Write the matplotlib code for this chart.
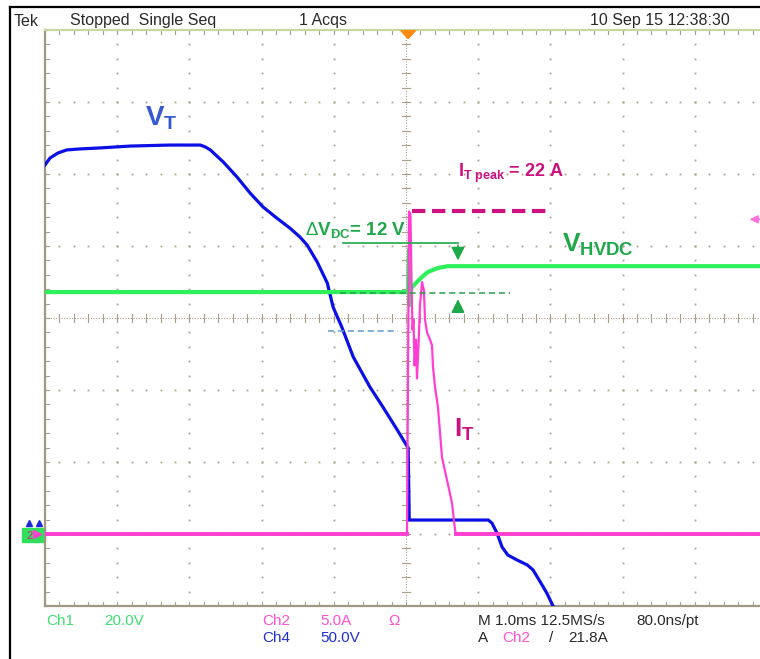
#!/usr/bin/env python3
"""Redraw of a Tek scope capture: V_T, I_T and V_HVDC around a switching event."""

import matplotlib

matplotlib.use("Agg")
import matplotlib.pyplot as plt  # noqa: E402
import numpy as np  # noqa: E402
from matplotlib.lines import Line2D  # noqa: E402
from matplotlib.patches import Rectangle  # noqa: E402

# scope settings
CH1_V_PER_DIV = 20.0   # green, V_HVDC
CH2_A_PER_DIV = 5.0    # magenta, I_T
CH4_V_PER_DIV = 50.0   # blue, V_T
GROUND_DIV = -3.0      # all channel ground markers sit one div above the bottom

# V_T (Ch4), time in ms relative to trigger, volts
VT_T = [-5.0, -4.93, -4.82, -4.70, -4.52, -4.24, -3.82, -3.27, -2.85, -2.78, -2.71,
        -2.53, -2.34, -2.16, -1.98, -1.79, -1.61, -1.47, -1.37, -1.23, -1.09, -1.01,
        -0.89, -0.73, -0.50, -0.32, -0.12, 0.03, 0.045, 1.14, 1.19, 1.26, 1.33, 1.41,
        1.54, 1.68, 1.76, 1.86, 1.95, 2.05]
VT_V = [256.3, 261.1, 264.6, 266.7, 267.4, 268.1, 269.4, 270.1, 270.1, 268.8, 266.7,
        258.3, 247.9, 236.8, 227.1, 219.4, 212.5, 206.3, 200.7, 188.9, 174.3, 157.6,
        143.8, 122.9, 102.1, 88.2, 72.2, 59.7, 9.7, 9.7, 7.6, 0.7, -9.0, -14.6,
        -18.1, -21.5, -25.0, -33.3, -41.0, -51.4]

# V_HVDC (Ch1), volts
VHVDC_T = [-5.0, 0.028, 0.042, 0.048, 0.055, 0.083, 0.152, 0.222, 0.305, 0.443, 0.582,
           0.72, 5.0]
VHVDC_V = [67.2, 67.2, 78.9, 63.6, 67.2, 68.6, 70.0, 71.4, 72.8, 73.9, 74.4, 74.4, 74.4]

# I_T (Ch2), amps
IT_T = [-5.0, 0.014, 0.042, 0.062, 0.076, 0.090, 0.104, 0.118, 0.139, 0.152, 0.173,
        0.194, 0.222, 0.249, 0.263, 0.291, 0.332, 0.360, 0.374, 0.402, 0.443, 0.499,
        0.568, 0.637, 0.679, 0.693, 5.0]
IT_A = [0.0, 0.0, 22.4, 22.2, 17.6, 14.2, 14.9, 11.7, 13.5, 10.8, 13.1,
        15.9, 17.5, 16.9, 14.9, 14.0, 13.5, 13.1, 11.6, 10.2, 8.8, 5.3,
        3.75, 2.15, 0.28, 0.0, 0.0]

GRID = "#a8a08a"
BLUE = "#0a10e6"
GREEN = "#2ef05a"
PINK = "#ff3fd2"
LBL_GREEN = "#1ea84a"
LBL_PINK = "#cc1280"

plt.rcParams["font.family"] = ["Liberation Sans", "DejaVu Sans"]
plt.rcParams["mathtext.fontset"] = "custom"
plt.rcParams["mathtext.rm"] = "Liberation Sans"
plt.rcParams["mathtext.bf"] = "Liberation Sans:bold"
plt.rcParams["mathtext.it"] = "Liberation Sans:italic"

W, H = 760, 659


def fx(px):
    return px / W


def fy(py):
    return 1 - py / H


def to_div(values, per_div):
    return np.asarray(values) / per_div + GROUND_DIV


fig = plt.figure(figsize=(W / 100, H / 100), dpi=100)
# graticule is 10 x 8 div, 72.2 px per time div, the right edge falls off the picture
ax = fig.add_axes((fx(45), fy(606), 722 / W, 576 / H))
ax.set_xlim(-5, 5)
ax.set_ylim(-4, 4)
ax.axis("off")

# --- graticule ---
minor = np.arange(-5, 5.001, 0.2)
minor_y = np.arange(-4, 4.001, 0.2)
for t in range(-4, 5):
    if t == 0:
        continue
    ax.plot(np.full_like(minor_y, t), minor_y, ls="none", marker="s", ms=1.3,
            mec="none", mfc=GRID, zorder=1)
for y in range(-3, 4):
    if y == 0:
        continue
    ax.plot(minor, np.full_like(minor, y), ls="none", marker="s", ms=1.3,
            mec="none", mfc=GRID, zorder=1)
ax.plot([-5, 5], [0, 0], color=GRID, lw=0.8, ls=(0, (1, 1.4)), zorder=1)
ax.plot([0, 0], [-4, 4], color=GRID, lw=0.8, ls=(0, (1, 1.4)), zorder=1)
tick_x = 0.055
tick_y = 0.055
for t in minor:
    ax.plot([t, t], [-tick_y, tick_y], color=GRID, lw=0.8, zorder=1)
    ax.plot([t, t], [-4, -4 + tick_y], color=GRID, lw=0.8, zorder=1)
    ax.plot([t, t], [4, 4 - tick_y], color=GRID, lw=0.8, zorder=1)
for y in minor_y:
    ax.plot([-tick_x, tick_x], [y, y], color=GRID, lw=0.8, zorder=1)
    ax.plot([-5, -5 + tick_x], [y, y], color=GRID, lw=0.8, zorder=1)
ax.plot([-5, -5], [-4, 4], color="#a09884", lw=1.6, zorder=2, clip_on=False)
ax.plot([-5, 5], [-4, -4], color="#a09884", lw=1.6, zorder=2, clip_on=False)
ax.plot([-5, 5], [4, 4], color="#c6d89c", lw=1.6, zorder=2, clip_on=False)

# trigger position marker
ax.fill([-0.07, 0.13, 0.03], [3.99, 3.99, 3.88], color="#ff8a10", zorder=6, clip_on=False)

# --- traces ---
vt_div = to_div(VT_V, CH4_V_PER_DIV)
vh_div = to_div(VHVDC_V, CH1_V_PER_DIV)
it_div = to_div(IT_A, CH2_A_PER_DIV)
ax.plot(VT_T, vt_div, color=BLUE, lw=2.3, zorder=3, solid_joinstyle="miter")
ax.plot(VHVDC_T, vh_div, color=GREEN, lw=3.0, zorder=4)
ax.plot(IT_T, it_div, color=PINK, lw=1.6, zorder=5)
it_base = np.where(np.asarray(IT_A) == 0, it_div, np.nan)
ax.plot(IT_T, it_base, color=PINK, lw=2.8, zorder=5)

# --- annotations ---
peak_div = max(IT_A) / CH2_A_PER_DIV + GROUND_DIV
ax.plot([0.083, 2.02], [peak_div, peak_div], color=LBL_PINK, lw=3.0,
        ls=(0, (3.2, 1.6)), zorder=6)
ax.plot([-0.873, 0.72], [1.04, 1.04], color=LBL_GREEN, lw=1.2, zorder=6)
ax.annotate("", xy=(0.72, 0.76), xytext=(0.72, 1.05),
            arrowprops=dict(arrowstyle="-|>", color=LBL_GREEN, lw=1.2, mutation_scale=20),
            zorder=6)
pre_div = VHVDC_V[0] / CH1_V_PER_DIV + GROUND_DIV
ax.plot([-0.914, 1.44], [pre_div - 0.01, pre_div - 0.01], color="#2a9e4e", lw=1.1,
        ls=(0, (4, 2.5)), zorder=6)
ax.annotate("", xy=(0.72, 0.30), xytext=(0.72, 0.04),
            arrowprops=dict(arrowstyle="-|>", color=LBL_GREEN, lw=1.2, mutation_scale=20),
            zorder=6)
ax.plot([-1.08, -0.11], [-0.18, -0.18], color="#5b9bd5", lw=1.1, ls=(0, (4, 2.5)), zorder=6)

ax.text(-3.61, 2.68, r"V$_{\mathbf{T}}$", color="#3558d0", fontsize=20,
        fontweight="bold", va="baseline", zorder=7)
ax.text(0.665, -1.65, r"I$_{\mathbf{T}}$", color=LBL_PINK, fontsize=19,
        fontweight="bold", va="baseline", zorder=7)
ax.text(0.72, 1.96, r"I$_{\mathbf{T\ peak}}$ = 22 A", color=LBL_PINK, fontsize=13,
        fontweight="bold", va="baseline", zorder=7)
ax.text(-1.40, 1.15, r"$\Delta$V$_{\mathbf{DC}}$= 12 V", color=LBL_GREEN, fontsize=13.5,
        fontweight="bold", va="baseline", zorder=7)
ax.text(2.16, 0.92, r"V$_{\mathbf{HVDC}}$", color=LBL_GREEN, fontsize=19,
        fontweight="bold", va="baseline", zorder=7)

# trigger level arrow on the right edge, partly off screen like the capture
ax.annotate("", xy=(4.72, 1.37), xytext=(5.0, 1.37),
            arrowprops=dict(arrowstyle="-|>", color="#ff70e0", lw=1.2, mutation_scale=12),
            annotation_clip=False)

# ground markers left of the graticule
gx = -5 - 15 / 72.2
ax.plot([gx - 0.02, gx + 0.13], [-2.85, -2.85], ls="none", marker="^", ms=5,
        color="#1a2ad8", clip_on=False, zorder=8)
ax.plot([gx + 0.1], [-3.0], ls="none", marker=">", ms=5.5, color="#ff40d0",
        clip_on=False, zorder=8)

# --- screen furniture outside the graticule ---
fig.add_artist(Line2D([fx(10), fx(10)], [fy(7), 0], color="black", lw=1.6))
fig.add_artist(Line2D([fx(10), 1], [fy(7), fy(7)], color="black", lw=1.6))
fig.add_artist(Rectangle((fx(22), fy(542)), 23 / W, 14 / H, color="#2ee05a", zorder=0))
fig.text(fx(30), fy(536), "2", color="#e0208a", fontsize=8, va="center", ha="center")

hdr = dict(fontsize=11.5, color="#2a2a2a", va="center")
fig.text(fx(14), fy(21), "Tek", **hdr)
fig.text(fx(70), fy(21), "Stopped  Single Seq", **hdr)
fig.text(fx(299), fy(21), "1 Acqs", **hdr)
fig.text(fx(590), fy(21), "10 Sep 15 12:38:30", **hdr)

ftr = dict(fontsize=11, va="center")
fig.text(fx(46), fy(621), "Ch1", color="#3ee070", **ftr)
fig.text(fx(104), fy(621), "20.0V", color="#3ee070", **ftr)
fig.text(fx(262), fy(621), "Ch2", color="#ff50d0", **ftr)
fig.text(fx(320), fy(621), "5.0A", color="#ff50d0", **ftr)
fig.text(fx(388), fy(621), "\u03a9", color="#ff50d0", **ftr)
fig.text(fx(478), fy(621), "M 1.0ms 12.5MS/s", color="#2a2a2a", **ftr)
fig.text(fx(636), fy(621), "80.0ns/pt", color="#2a2a2a", **ftr)
fig.text(fx(262), fy(638), "Ch4", color="#2030d0", **ftr)
fig.text(fx(320), fy(638), "50.0V", color="#2030d0", **ftr)
fig.text(fx(478), fy(638), "A", color="#2a2a2a", **ftr)
fig.text(fx(502), fy(638), "Ch2", color="#ff50d0", **ftr)
fig.text(fx(549), fy(638), "/", color="#2a2a2a", **ftr)
fig.text(fx(568), fy(638), "21.8A", color="#2a2a2a", **ftr)

fig.savefig("out.png", dpi=100)
